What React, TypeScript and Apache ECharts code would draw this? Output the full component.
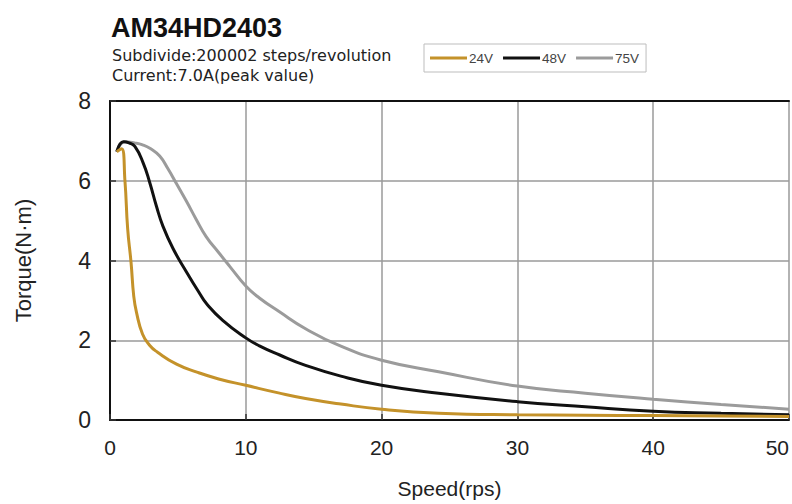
import React, { useEffect, useRef } from "react";
import * as echarts from "echarts";

const seriesNames = ["24V", "48V", "75V"];
const seriesColors = ["#C4922A", "#111111", "#9B9B9B"];

const speed24 = [0.5, 0.85, 1.1, 1.3, 1.55, 1.75, 1.95, 2.4, 2.93, 3.5, 4.9, 6.4, 8.0, 10, 12.4, 14.4, 17, 20, 24.2, 30, 35, 40, 45, 50];
const torque24 = [6.73, 6.8, 6.0, 4.8, 3.95, 3.1, 2.7, 2.15, 1.87, 1.7, 1.4, 1.2, 1.03, 0.87, 0.68, 0.54, 0.4, 0.27, 0.17, 0.13, 0.12, 0.11, 0.1, 0.09];

const speed48 = [0.5, 1.0, 1.4, 1.83, 2.44, 2.93, 3.42, 3.91, 4.64, 5.62, 6.59, 7.1, 8.3, 10, 11, 12.5, 14.4, 17, 20, 24.2, 30, 35, 40, 45, 50];
const torque48 = [6.73, 6.98, 6.95, 6.86, 6.45, 5.95, 5.36, 4.85, 4.3, 3.72, 3.18, 2.92, 2.5, 2.06, 1.86, 1.63, 1.37, 1.1, 0.87, 0.67, 0.46, 0.33, 0.22, 0.17, 0.13];

const speed75 = [0.5, 1.1, 1.8, 2.4, 3.0, 3.66, 4.27, 4.89, 5.62, 6.35, 7.08, 8.0, 8.8, 10, 11, 12.45, 14.4, 17, 20, 24.2, 30, 35, 40, 45, 50];
const torque75 = [6.73, 6.98, 6.95, 6.9, 6.8, 6.62, 6.3, 5.93, 5.49, 5.03, 4.6, 4.2, 3.86, 3.36, 3.06, 2.72, 2.29, 1.85, 1.5, 1.21, 0.85, 0.67, 0.52, 0.39, 0.27];

const xTicks = [0, 10, 20, 30, 40, 50];
const yTicks = [0, 2, 4, 6, 8];

const titleText = "AM34HD2403";
const subLines = ["Subdivide:200002 steps/revolution", "Current:7.0A(peak value)"];

function pairs(xs: number[], ys: number[]) {
  return xs.map((x, i) => [x, ys[i]]);
}

export default function App() {
  const ref = useRef<HTMLDivElement>(null);
  useEffect(() => {
    if (!ref.current) return;
    const chart = echarts.init(ref.current, null, { renderer: "svg" });
    const data = [pairs(speed24, torque24), pairs(speed48, torque48), pairs(speed75, torque75)];
    chart.setOption({
      animation: false,
      backgroundColor: "#ffffff",
      title: {
        text: titleText,
        left: 106,
        top: 9,
        textStyle: { fontFamily: "Liberation Sans", fontWeight: "bold", fontSize: 27, color: "#111" },
      },
      graphic: subLines.map((t, i) => ({
        type: "text",
        x: 112,
        y: 55 + i * 20,
        style: {
          text: t,
          font: '16px "DejaVu Sans"',
          fill: "#222",
          textVerticalAlign: "middle",
        },
      })),
      legend: {
        data: seriesNames,
        left: 424,
        top: 44,
        orient: "horizontal",
        icon: "rect",
        itemWidth: 37,
        itemHeight: 3,
        itemGap: 10,
        padding: [7, 7, 7, 6],
        borderColor: "#bdbdbd",
        borderWidth: 1,
        textStyle: { fontFamily: "Liberation Sans", fontSize: 13.5, color: "#444", padding: [0, 0, 0, -3] },
      },
      grid: { left: 110, top: 101, right: 0, bottom: 82 },
      xAxis: [
        {
          type: "value",
          min: xTicks[0],
          max: xTicks[xTicks.length - 1],
          interval: 10,
          name: "Speed(rps)",
          nameLocation: "middle",
          nameGap: 58,
          nameTextStyle: { fontFamily: "Liberation Sans", fontSize: 21, color: "#222" },
          axisLine: { show: true, onZero: false, lineStyle: { color: "#111", width: 2 } },
          axisTick: { show: true, inside: true, length: 6, lineStyle: { color: "#333", width: 1.5 } },
          axisLabel: { fontFamily: "Liberation Sans", fontSize: 21, color: "#222", margin: 17, alignMaxLabel: "right" },
          splitLine: { show: true, lineStyle: { color: "#9a9a9a", width: 1.5 } },
        },
        {
          type: "value",
          position: "top",
          min: 0,
          max: 50,
          interval: 10,
          axisLine: { show: true, onZero: false, lineStyle: { color: "#111", width: 2 } },
          axisTick: { show: false },
          axisLabel: { show: false },
          splitLine: { show: false },
        },
      ],
      yAxis: {
        type: "value",
        min: yTicks[0],
        max: yTicks[yTicks.length - 1],
        interval: 2,
        name: "Torque(N·m)",
        nameLocation: "middle",
        nameGap: 76,
        nameRotate: 90,
        nameTextStyle: { fontFamily: "Liberation Sans", fontSize: 22, color: "#222" },
        axisLine: { show: true, onZero: false, lineStyle: { color: "#111", width: 2 } },
        axisTick: { show: true, inside: true, length: 6, lineStyle: { color: "#333", width: 1.5 } },
        axisLabel: { fontFamily: "Liberation Sans", fontSize: 23, color: "#222", margin: 19 },
        splitLine: { show: true, lineStyle: { color: "#9a9a9a", width: 1.5 } },
      },
      series: seriesNames.map((name, i) => ({
        name,
        type: "line",
        xAxisIndex: 0,
        data: data[i],
        smooth: 0.5,
        showSymbol: false,
        symbol: "none",
        lineStyle: { color: seriesColors[i], width: 3 },
        itemStyle: { color: seriesColors[i] },
        z: 3 - i,
      })),
    });
    return () => chart.dispose();
  }, []);
  return <div ref={ref} style={{ position: "absolute", left: 0, top: 0, width: 792, height: 504 }} />;
}
